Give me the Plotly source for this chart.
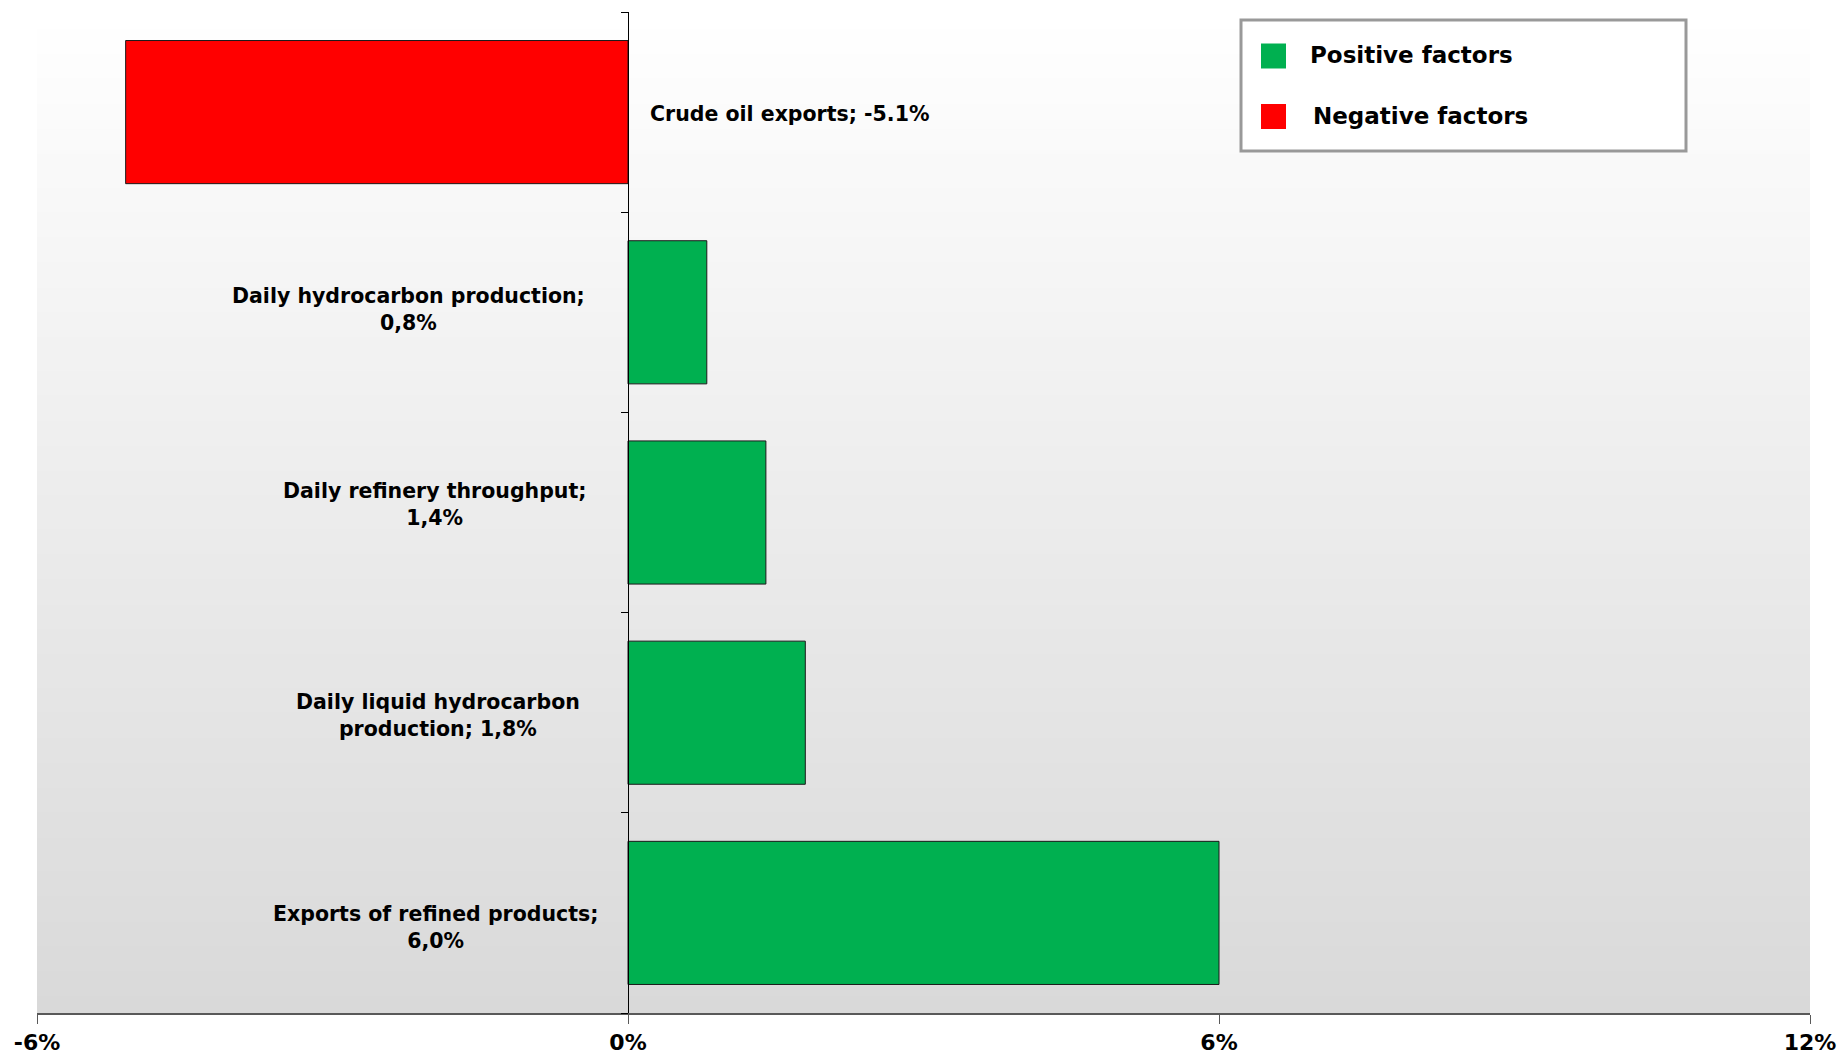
import plotly.graph_objects as go

# Contributions of individual factors (percentage points), top to bottom
categories = [
    "Crude oil exports",
    "Daily hydrocarbon production",
    "Daily refinery throughput",
    "Daily liquid hydrocarbon production",
    "Exports of refined products",
]
values = [-5.1, 0.8, 1.4, 1.8, 6.0]

# How each data label is written: name (with its own line break), joiner, decimal mark
label_names = [
    "Crude oil exports",
    "Daily hydrocarbon production",
    "Daily refinery throughput",
    "Daily liquid hydrocarbon<br>production",
    "Exports of refined products",
]
label_joiners = [" ", "<br>", "<br>", " ", "<br>"]
decimal_marks = [".", ",", ",", ",", ","]

x_ticks = [-6, 0, 6, 12]
x_tick_text = [f"{t}%" for t in x_ticks]
legend_labels = ["Positive factors", "Negative factors"]

POS_COLOR = "#00B050"
NEG_COLOR = "#FF0000"
FONT = "DejaVu Sans"

W, H = 1840, 1055
ML, MR, MT, MB = 37, 30, 12, 42
PW, PH = W - ML - MR, H - MT - MB

# Pixel nudges for the individual data labels (layout only)
LABEL_XSHIFT = [20, -41.5, -40.5, -46, -28.5]
LABEL_YSHIFT = [-2, 3, 8, -3, -15]


def px_x(px):
    return (px - ML) / PW


def px_y(py):
    return 1 - (py - MT) / PH


colors = [NEG_COLOR if v < 0 else POS_COLOR for v in values]

fig = go.Figure(
    go.Bar(
        y=categories,
        x=values,
        orientation="h",
        marker=dict(color=colors, line=dict(color="#1a1a1a", width=1)),
        showlegend=False,
        hoverinfo="skip",
    )
)

# Data labels: negative bar labelled to the right of zero, positive bars to the left
annotations = []
for i, (name, joiner, mark, cat, v) in enumerate(
    zip(label_names, label_joiners, decimal_marks, categories, values)
):
    txt = f"{name};{joiner}{v:.1f}%".replace(".", mark)
    annotations.append(dict(
        x=0, y=cat, xref="x", yref="y", text=txt, showarrow=False,
        xanchor="left" if v < 0 else "right",
        align="left" if v < 0 else "center",
        xshift=LABEL_XSHIFT[i], yshift=LABEL_YSHIFT[i],
        font=dict(family=FONT, size=20.5, color="black", weight="bold"),
    ))

# Vertical gradient behind the plot area
shapes = []
n_strips = 120
top_c, bot_c = (255, 255, 255), (217, 217, 217)
for i in range(n_strips):
    t = (i + 0.5) / n_strips
    c = tuple(round(top_c[k] + (bot_c[k] - top_c[k]) * t) for k in range(3))
    shapes.append(dict(
        type="rect", xref="paper", yref="paper", layer="below",
        x0=0, x1=1, y0=1 - (i + 1) / n_strips - 0.001, y1=1 - i / n_strips,
        fillcolor=f"rgb{c}", line=dict(width=0),
    ))

# Legend box drawn by hand
shapes.append(dict(
    type="rect", xref="paper", yref="paper",
    x0=px_x(1241), x1=px_x(1686), y0=px_y(151), y1=px_y(20),
    fillcolor="white", line=dict(color="#999999", width=3),
))
for label, color, cy, tx in zip(legend_labels, [POS_COLOR, NEG_COLOR], [56, 116.5], [1308, 1311]):
    shapes.append(dict(
        type="rect", xref="paper", yref="paper",
        x0=px_x(1261), x1=px_x(1286), y0=px_y(cy + 12.5), y1=px_y(cy - 12.5),
        fillcolor=color, line=dict(width=0),
    ))
    annotations.append(dict(
        x=px_x(tx), y=px_y(cy - 1), xref="paper", yref="paper", text=label,
        showarrow=False, xanchor="left", yanchor="middle",
        font=dict(family=FONT, size=23, color="black", weight="bold"),
    ))

fig.update_layout(
    width=W, height=H,
    margin=dict(l=ML, r=MR, t=MT, b=MB, pad=0, autoexpand=False),
    paper_bgcolor="white",
    plot_bgcolor="white",
    bargap=0.285,
    font=dict(family=FONT, color="black"),
    shapes=shapes,
    annotations=annotations,
    xaxis=dict(
        range=[-6, 12], tickmode="array", tickvals=x_ticks, ticktext=x_tick_text,
        automargin=False,
        showgrid=False, zeroline=False,
        showline=True, linecolor="#595959", linewidth=2,
        ticks="outside", ticklen=9, tickcolor="#595959", tickwidth=1,
        tickfont=dict(family=FONT, size=22, color="black", weight="bold"),
    ),
    yaxis=dict(
        type="category", categoryorder="array", categoryarray=categories[::-1],
        anchor="free", position=1 / 3, automargin=False,
        showline=True, linecolor="black", linewidth=1,
        ticks="outside", tickson="boundaries", ticklen=7, tickcolor="black",
        showticklabels=False, showgrid=False, zeroline=False,
    ),
)

fig.write_html("out.html")
